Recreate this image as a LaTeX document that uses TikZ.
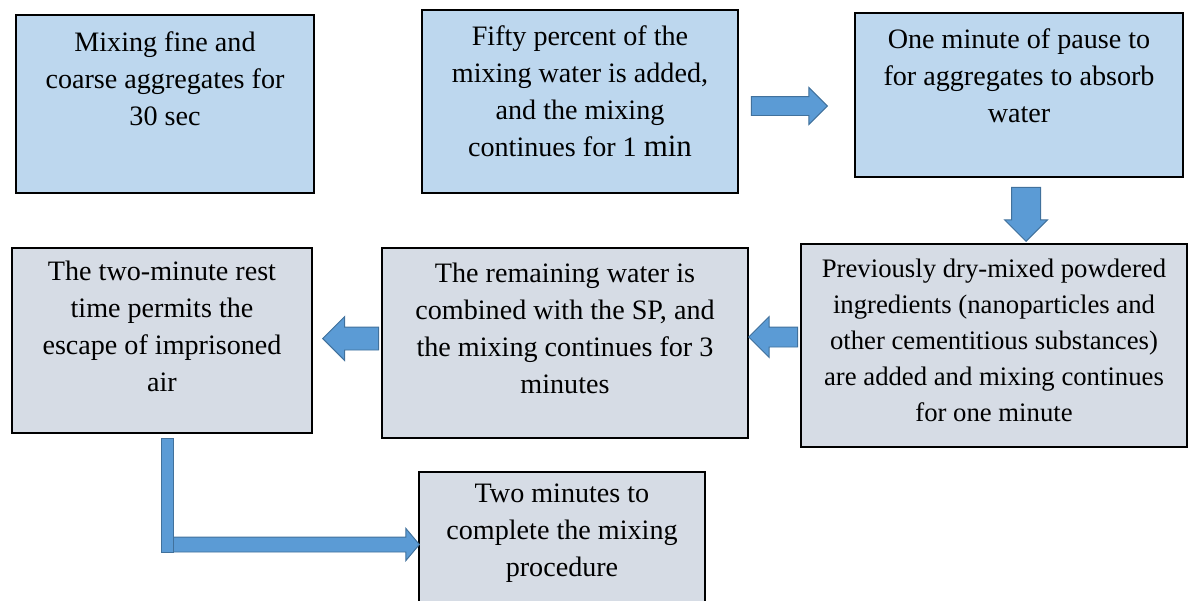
\documentclass[tikz,border=0pt]{standalone}
\usepackage{fontspec}
\setmainfont{Liberation Serif}
\usepackage{tikz}
\usetikzlibrary{shapes.arrows,positioning}
\definecolor{TopFill}{RGB}{189,215,238}
\definecolor{LowFill}{RGB}{214,220,229}
\definecolor{ArrFill}{RGB}{91,155,213}
\definecolor{ArrLine}{RGB}{65,113,156}
\tikzset{
  nd_top/.style={
    rectangle, draw=black, fill=TopFill, line width=1.2pt,
    inner sep=0pt},
  nd_low/.style={
    rectangle, draw=black, fill=LowFill, line width=1.2pt,
    inner sep=0pt},
  nd_txt/.style={
    anchor=north, align=center, inner sep=0pt,
    execute at begin node={\rule{0pt}{14.5pt}},
    font=\fontsize{20}{26.3}\selectfont},
  blk_arr/.style={
    single arrow, draw=ArrLine, fill=ArrFill, line width=0.7pt,
    inner xsep=0pt, text height=0pt, text depth=0pt, text width=0pt,
    single arrow head indent=0pt, anchor=tip},
}

\begin{document}
\begin{tikzpicture}[x=0.025cm,y=0.025cm]

\useasboundingbox (0,0) rectangle (1188,-600);

%% ── TOP ROW ────────────────────────────────────────────────
\node[nd_top, minimum width=7.45cm, minimum height=4.45cm]  at (165,-104)   (S1){};
\node[nd_top, minimum width=7.9cm,  minimum height=4.575cm] at (580,-101.5) (S2){};
\node[nd_top, minimum width=8.2cm,  minimum height=4.1cm]   at (1019,-95)   (S3){};

\node[nd_txt, below=0.44cm of S1.north]  (T1){Mixing fine and\\coarse aggregates for\\30 sec};
\node[nd_txt, below=0.415cm of S2.north] (T2){Fifty percent of the\\mixing water is added,\\and the mixing\\continues for 1 {\fontsize{22}{26.3}\selectfont min}};
\node[nd_txt, below=0.415cm of S3.north] (T3){One minute of pause to\\for aggregates to absorb\\water};

%% ── MIDDLE ROW ─────────────────────────────────────────────
\node[nd_low, minimum width=9.65cm, minimum height=5.075cm] at (994,-345.5) (S4){};
\node[nd_low, minimum width=9.15cm, minimum height=4.75cm]  at (565,-343)   (S5){};
\node[nd_low, minimum width=7.5cm,  minimum height=4.625cm] at (162,-340.5) (S6){};

\node[nd_txt, below=0.39cm of S4.north, font=\fontsize{19}{25.6}\selectfont] (T4){Previously dry-mixed powdered\\ingredients (nanoparticles and\\other cementitious substances)\\are added and mixing continues\\for one minute};
\node[nd_txt, below=0.39cm of S5.north] (T5){The remaining water is\\combined with the SP, and\\the mixing continues for 3\\minutes};
\node[nd_txt, below=0.34cm of S6.north] (T6){The two-minute rest\\time permits the\\escape of imprisoned\\air};

%% ── BOTTOM ─────────────────────────────────────────────────
\node[nd_low, minimum width=7.15cm, minimum height=3.3cm] at (562,-538) (S7){};
\node[nd_txt, below=0.315cm of S7.north] (T7){Two minutes to\\complete the mixing\\procedure};

%% ── block arrows ───────────────────────────────────────────
\node[blk_arr, minimum height=1.9cm, inner ysep=0.225cm,
      single arrow head extend=0.225cm] at (828,-106) (A1){};
\node[blk_arr, rotate=-90, minimum height=1.35cm, inner ysep=0.35cm,
      single arrow head extend=0.175cm] at (1026,-242) (A2){};
\node[blk_arr, rotate=180, minimum height=1.225cm, inner ysep=0.2375cm,
      single arrow head extend=0.2625cm] at (748,-337) (A3){};
\node[blk_arr, rotate=180, minimum height=1.4cm, inner ysep=0.275cm,
      single arrow head extend=0.2625cm] at (322,-338.5) (A4){};
\node[blk_arr, minimum height=6.325cm, inner ysep=0.175cm,
      single arrow head extend=0.2125cm, single arrow tip angle=100] at (420,-544.5) (A5){};
\node[rectangle, draw=ArrLine, fill=ArrFill, line width=0.7pt, inner sep=0pt,
      minimum width=0.3cm, minimum height=2.85cm] at (167,-495) (A5v){};

\end{tikzpicture}
\end{document}
